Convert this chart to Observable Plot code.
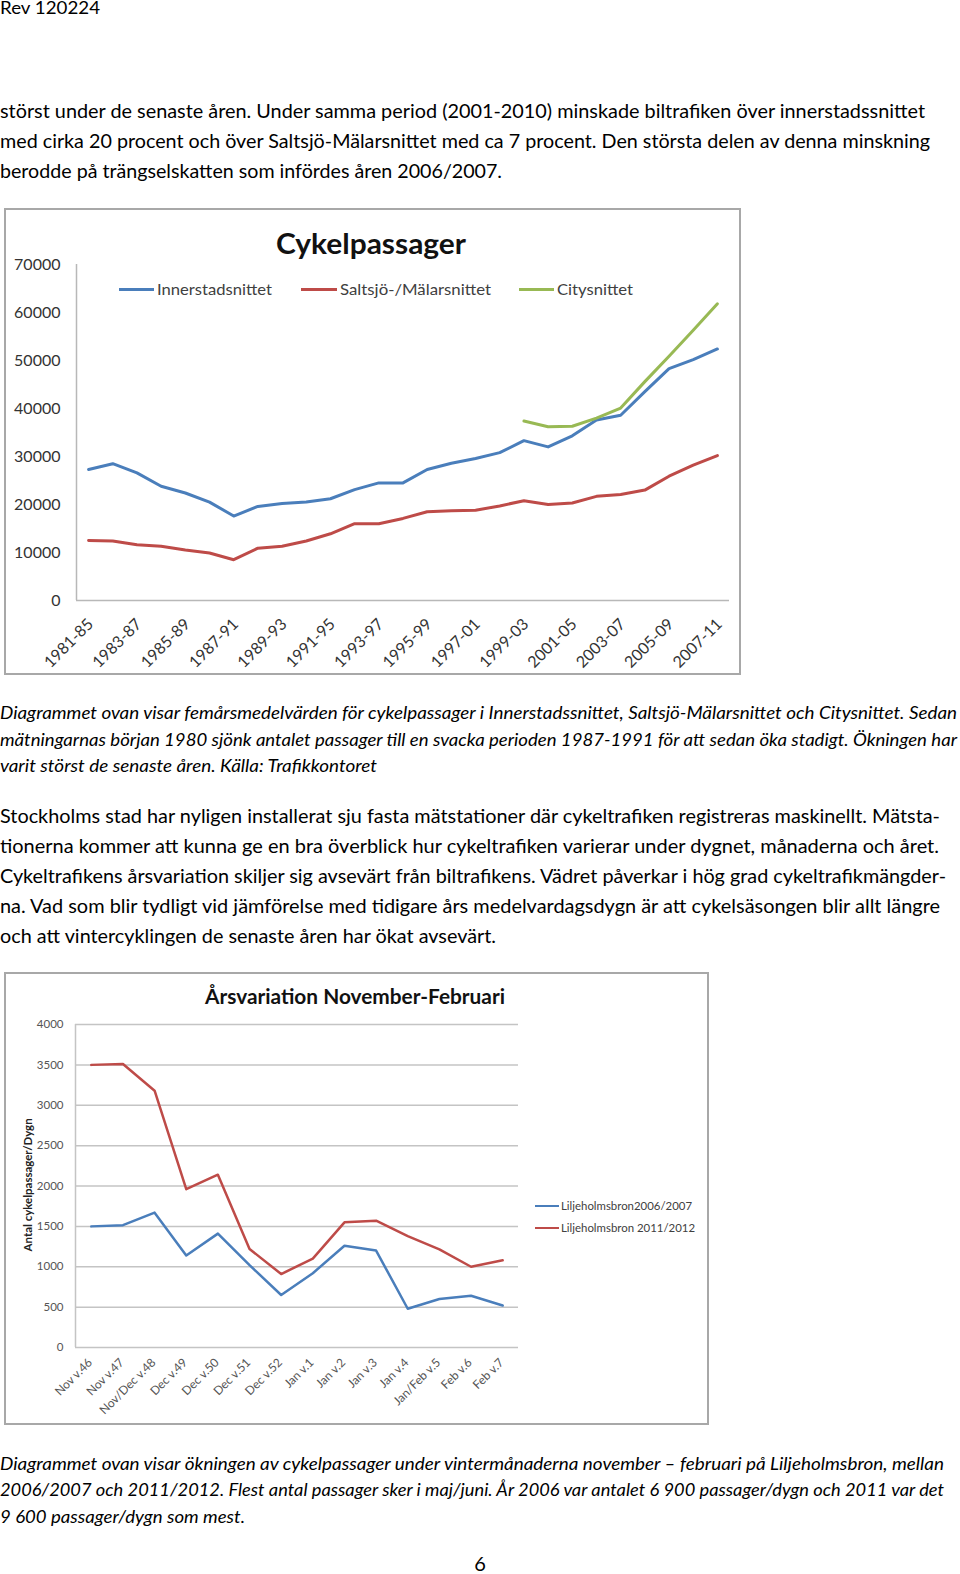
<!DOCTYPE html>
<html><head><meta charset="utf-8">
<script src="https://cdn.jsdelivr.net/npm/d3@7"></script>
<script src="https://cdn.jsdelivr.net/npm/@observablehq/plot@0.6"></script>
<style>
html,body{margin:0;padding:0;background:#fff;}
body{width:960px;height:1574px;position:relative;overflow:hidden;font-family:Lato,"Open Sans",sans-serif;color:#000;}
.t{position:absolute;white-space:nowrap;transform-origin:0 50%;}
.box{position:absolute;border:2px solid #a8a8a8;box-sizing:border-box;background:#fff;}
.seg{position:absolute;}
</style></head><body>
<script>
// ---------- DATA ----------
const periods = ["1981-85","1982-86","1983-87","1984-88","1985-89","1986-90","1987-91","1988-92","1989-93","1990-94","1991-95","1992-96","1993-97","1994-98","1995-99","1996-00","1997-01","1998-02","1999-03","2000-04","2001-05","2002-06","2003-07","2004-08","2005-09","2006-10","2007-11"];
const innerstad = [27300,28500,26600,23800,22400,20500,17600,19600,20200,20500,21200,23100,24500,24500,27300,28600,29600,30800,33300,32000,34300,37600,38600,43500,48300,50200,52400];
const saltsjo = [12500,12400,11600,11300,10500,9900,8500,10900,11300,12400,13900,16000,16000,17100,18500,18700,18800,19700,20800,20000,20300,21700,22100,23000,25900,28200,30200];
const city = [null,null,null,null,null,null,null,null,null,null,null,null,null,null,null,null,null,null,37400,36200,36300,38000,40100,45600,50900,56300,61800];
const yTicks1 = [0,10000,20000,30000,40000,50000,60000,70000];
const series1 = ["Innerstadsnittet","Saltsjö-/Mälarsnittet","Citysnittet"];

const weeks = ["Nov v.46","Nov v.47","Nov/Dec v.48","Dec v.49","Dec v.50","Dec v.51","Dec v.52","Jan v.1","Jan v.2","Jan v.3","Jan v.4","Jan/Feb v.5","Feb v.6","Feb v.7"];
const lilj0607 = [1500,1515,1670,1140,1410,1020,650,920,1260,1200,480,600,640,520];
const lilj1112 = [3500,3510,3180,1960,2140,1220,910,1100,1550,1570,1380,1215,1000,1080];
const yTicks2 = [0,500,1000,1500,2000,2500,3000,3500,4000];
const series2 = ["Liljeholmsbron2006/2007","Liljeholmsbron 2011/2012"];

const para1 = [
 "störst under de senaste åren. Under samma period (2001-2010) minskade biltrafiken över innerstadssnittet",
 "med cirka 20 procent och över Saltsjö-Mälarsnittet med ca 7 procent. Den största delen av denna minskning",
 "berodde på trängselskatten som infördes åren 2006/2007."];
const caption1 = [
 "Diagrammet ovan visar femårsmedelvärden för cykelpassager i Innerstadssnittet, Saltsjö-Mälarsnittet och Citysnittet. Sedan",
 "mätningarnas början 1980 sjönk antalet passager till en svacka perioden 1987-1991 för att sedan öka stadigt. Ökningen har",
 "varit störst de senaste åren. Källa: Trafikkontoret"];
const para2 = [
 "Stockholms stad har nyligen installerat sju fasta mätstationer där cykeltrafiken registreras maskinellt. Mätsta-",
 "tionerna kommer att kunna ge en bra överblick hur cykeltrafiken varierar under dygnet, månaderna och året.",
 "Cykeltrafikens årsvariation skiljer sig avsevärt från biltrafikens. Vädret påverkar i hög grad cykeltrafikmängder-",
 "na. Vad som blir tydligt vid jämförelse med tidigare års medelvardagsdygn är att cykelsäsongen blir allt längre",
 "och att vintercyklingen de senaste åren har ökat avsevärt."];
const caption2 = [
 "Diagrammet ovan visar ökningen av cykelpassager under vintermånaderna november – februari på Liljeholmsbron, mellan",
 "2006/2007 och 2011/2012. Flest antal passager sker i maj/juni. År 2006 var antalet 6 900 passager/dygn och 2011 var det",
 "9 600 passager/dygn som mest."];
const header = "Rev 120224";
const pageNo = "6";
const title1 = "Cykelpassager";
const title2 = "Årsvariation November-Februari";
const yTitle2 = "Antal cykelpassager/Dygn";

const colors1 = ["#4a7ebb","#be4b48","#98b954"];
const colors2 = ["#4a7ebb","#be4b48"];

// ---------- LAYOUT HELPERS ----------
function txt(str, o) {
  const el = document.createElement("div");
  el.className = "t";
  el.textContent = str;
  const size = o.size || 20, lh = size * 1.25;
  el.style.fontSize = size + "px";
  el.style.lineHeight = lh + "px";
  if (o.weight) el.style.fontWeight = o.weight;
  if (o.italic) el.style.fontStyle = "italic";
  if (o.color) el.style.color = o.color;
  document.body.appendChild(el);
  const nat = el.getBoundingClientRect().width;
  const s = o.w ? o.w / nat : 1;
  el.style.top = (o.cy - lh / 2) + "px";
  if (o.rotate) {
    el.style.transformOrigin = "50% 50%";
    el.style.left = (o.cx - nat / 2) + "px";
    el.style.transform = `rotate(${o.rotate}deg) scaleX(${s})`;
  } else {
    const left = o.cx != null ? o.cx - (nat * s) / 2 : (o.x || 0);
    el.style.left = left + "px";
    el.style.transform = `scaleX(${s})`;
  }
  return el;
}
function box(x, y, w, h) {
  const el = document.createElement("div");
  el.className = "box";
  Object.assign(el.style, {left: x + "px", top: y + "px", width: w + "px", height: h + "px"});
  document.body.appendChild(el);
}
function seg(x1, x2, y, color, th) {
  const el = document.createElement("div");
  el.className = "seg";
  Object.assign(el.style, {left: x1 + "px", top: (y - th / 2) + "px", width: (x2 - x1) + "px", height: th + "px", background: color});
  document.body.appendChild(el);
}
function place(svg, x, y) {
  svg.style.position = "absolute";
  svg.style.left = x + "px";
  svg.style.top = y + "px";
  document.body.appendChild(svg);
}

// ---------- TEXT ----------
txt(header, {x: 0, cy: 8, size: 17, w: 100});
[[110.5, 925], [140, 930], [170, 502]].forEach(([cy, w], i) => txt(para1[i], {x: 0, cy, size: 20, w}));
[[712, 957], [739, 957], [765.5, 377]].forEach(([cy, w], i) => txt(caption1[i], {x: 0, cy, size: 18, italic: true, w}));
[[815, 940], [845, 939], [875, 946], [905, 940], [935, 496]].forEach(([cy, w], i) => txt(para2[i], {x: 0, cy, size: 20, w}));
[[1463, 944], [1489, 944], [1516, 245]].forEach(([cy, w], i) => txt(caption2[i], {x: 0, cy, size: 18, italic: true, w}));
txt(pageNo, {cx: 480, cy: 1563, size: 20});

// ---------- CHART 1 ----------
box(4, 208, 737, 467);
const rows1 = [];
periods.forEach((p, i) => {
  rows1.push({i, s: series1[0], v: innerstad[i]});
  rows1.push({i, s: series1[1], v: saltsjo[i]});
  rows1.push({i, s: series1[2], v: city[i]});
});
const chart1 = Plot.plot({
  width: 745, height: 467,
  marginTop: 56, marginBottom: 75, marginLeft: 76, marginRight: 16,
  style: {fontFamily: "Lato, sans-serif", fontSize: "16px", color: "#333333", background: "transparent", overflow: "visible"},
  x: {domain: [-0.5, periods.length - 0.5]},
  y: {domain: [0, 70000]},
  color: {domain: series1, range: colors1},
  marks: [
    Plot.ruleY([0], {stroke: "#b8b8b8", strokeWidth: 1.5}),
    Plot.ruleX([-0.5], {stroke: "#b8b8b8", strokeWidth: 1.5}),
    Plot.axisY({ticks: yTicks1, tickSize: 0, tickPadding: 16, tickFormat: d => String(d), label: null}),
    Plot.axisX({ticks: periods.map((p, i) => i).filter(i => i % 2 === 0), tickFormat: i => periods[i], tickRotate: -45, tickSize: 0, tickPadding: 21, dx: 2, label: null}),
    Plot.line(rows1, {x: "i", y: "v", z: "s", stroke: "s", strokeWidth: 3, strokeLinejoin: "round", strokeLinecap: "round"})
  ]
});
place(chart1, 0, 208);
txt(title1, {cx: 371, cy: 243, size: 28, weight: 700, w: 190, color: "#111"});
const leg1 = [[118.5, 154, 157], [301, 337, 340], [519, 554, 557]];
const legW1 = [115, 151, 76];
leg1.forEach(([a, b, tx], k) => {
  seg(a, b, 289, colors1[k], 3);
  txt(series1[k], {x: tx, cy: 289, size: 16, color: "#404040", w: legW1[k]});
});

// ---------- CHART 2 ----------
box(4, 972, 705, 453);
const rows2 = [];
weeks.forEach((w, i) => {
  rows2.push({i, s: series2[0], v: lilj0607[i]});
  rows2.push({i, s: series2[1], v: lilj1112[i]});
});
const chart2 = Plot.plot({
  width: 712, height: 453,
  marginTop: 52, marginBottom: 78, marginLeft: 75, marginRight: 194,
  style: {fontFamily: "Lato, sans-serif", fontSize: "11.5px", color: "#555555", background: "transparent", overflow: "visible"},
  x: {domain: [-0.5, weeks.length - 0.5]},
  y: {domain: [0, 4000]},
  color: {domain: series2, range: colors2},
  marks: [
    Plot.ruleY(yTicks2, {stroke: "#c4c4c4", strokeWidth: 1.5}),
    Plot.ruleX([-0.5], {stroke: "#c4c4c4", strokeWidth: 1.5}),
    Plot.axisY({ticks: yTicks2, tickSize: 0, tickPadding: 12, tickFormat: d => String(d), label: null}),
    Plot.axisX({ticks: weeks.map((w, i) => i), tickFormat: i => weeks[i], tickRotate: -45, tickSize: 0, tickPadding: 13, dx: -1, fontSize: 12, label: null}),
    Plot.line(rows2, {x: "i", y: "v", z: "s", stroke: "s", strokeWidth: 2.5, strokeLinejoin: "round"})
  ]
});
place(chart2, 0, 972);
txt(title2, {cx: 355, cy: 996, size: 21, weight: 700, w: 300, color: "#111"});
txt(yTitle2, {cx: 28, cy: 1185, size: 11, weight: 700, w: 133, rotate: -90, color: "#222"});
[1206, 1228].forEach((cy, k) => {
  seg(535, 559, cy, colors2[k], 2);
  txt(series2[k], {x: 561, cy, size: 11, color: "#404040", w: k === 0 ? 131 : 134});
});
</script>
</body></html>
